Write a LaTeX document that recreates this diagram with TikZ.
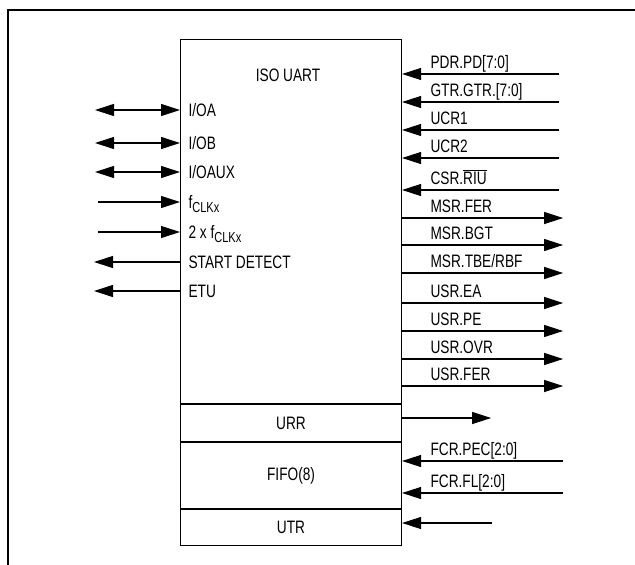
\documentclass[tikz,border=0pt]{standalone}
\usepackage{fontspec}
\setmainfont[FakeStretch=0.76]{Liberation Sans}
\usetikzlibrary{arrows.meta}
\newcommand{\clkx}{f\raisebox{-4pt}{\fontsize{14.5}{14.5}\selectfont CLKx}}

\begin{document}
\begin{tikzpicture}[x=1pt,y=-1pt,line width=1.1pt,
    >={Triangle[length=19pt,width=12pt]},
    every node/.style={font=\fontsize{18}{20}\selectfont,inner sep=0pt},
    blk/.style={draw,minimum width=221pt}]
        \useasboundingbox (0,0) rectangle (635,565);
        \draw[line width=1.4pt] (8,565) -- (8,10) -- (635,10);
        % register block
        \node[blk,minimum height=364pt,anchor=north west] (uart) at (180,39) {};
        \node (title) at (288,75) {ISO UART};
        \node[blk,minimum height=37pt,anchor=north] (urr) at (uart.south) {URR};
        \node[blk,minimum height=66pt,anchor=north] (fifo) at (urr.south) {FIFO(8)};
        \node[blk,minimum height=36pt,anchor=north] (utr) at (fifo.south) {UTR};
        % left side
        \foreach \y/\txt in {110/I\slash OA, 143/I\slash OB, 172/I\slash OAUX} {
          \draw[<->] (uart.west |- 0,\y) -- ++(-85,0);
          \node[anchor=base west] at (188,\y+6) {\txt};
        }
        \foreach \y/\txt in {202/\clkx, 232/2 x \clkx} {
          \draw[<-] (uart.west |- 0,\y) -- ++(-82,0);
          \node[anchor=base west] at (188,\y+6) {\txt};
        }
        \foreach \y/\txt in {262/START DETECT, 291/ETU} {
          \draw[->] (uart.west |- 0,\y) -- ++(-86,0);
          \node[anchor=base west] at (188,\y+6) {\txt};
        }
        % right side
        \foreach \y/\txt in {74/PDR.PD[7:0], 102/GTR.GTR.[7:0], 130/UCR1, 158/UCR2,
                             190/CSR.$\overline{\mbox{RIU}}$} {
          \draw[<-] (uart.east |- 0,\y) -- ++(157,0);
          \node[anchor=base west] at (430,\y-6) {\txt};
        }
        \foreach \y/\txt in {218/MSR.FER, 245/MSR.BGT, 273/MSR.TBE\slash RBF, 303/USR.EA,
                             331/USR.PE, 359/USR.OVR, 386/USR.FER} {
          \draw[->] (uart.east |- 0,\y) -- ++(161,0);
          \node[anchor=base west] at (430,\y-6) {\txt};
        }
        \draw[->] (urr.east |- 0,418) -- ++(89,0);
        \foreach \y/\txt in {461/FCR.PEC[2:0], 493/FCR.FL[2:0]} {
          \draw[<-] (fifo.east |- 0,\y) -- ++(161,0);
          \node[anchor=base west] at (430,\y-6) {\txt};
        }
        \draw[<-] (utr.east |- 0,523) -- ++(90,0);
      \end{tikzpicture}
\end{document}
